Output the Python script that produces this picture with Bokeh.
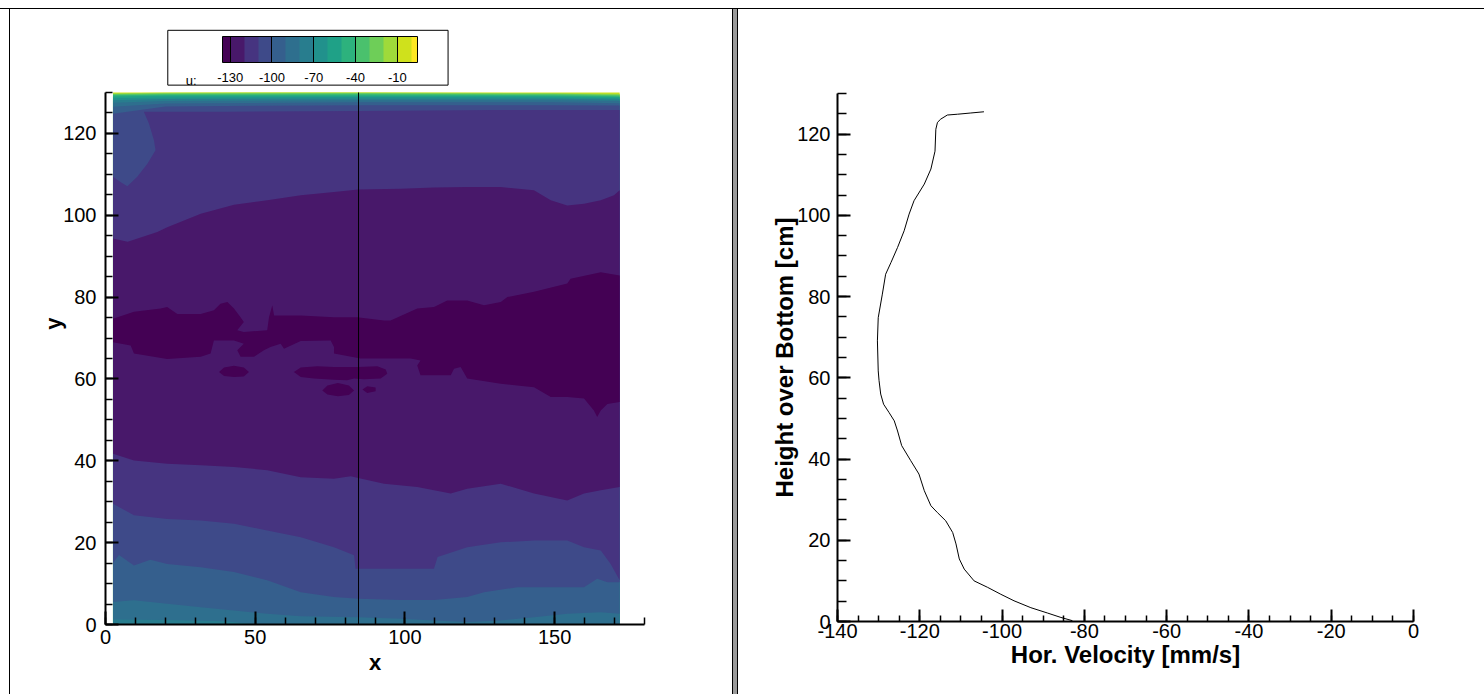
from bokeh.plotting import figure
from bokeh.models import (ColorBar, LinearColorMapper, FixedTicker, SingleIntervalTicker,
                          BoxAnnotation, Label, Div, PrintfTickFormatter)
from bokeh.layouts import row, column
from bokeh.embed import file_html
from bokeh.resources import INLINE

FONT = "Liberation Sans"

# ------------------------------------------------------------------ data
# contour levels of u and the flood colour of the band just below each level
levels = [-130, -120, -110, -100, -90, -80, -70, -60, -50, -40, -30, -20, -10, 0]
band_colors = ["#440154", "#48186a", "#463480", "#3e4a89", "#355f8d", "#2e6f8e", "#287d8e",
               "#21918c", "#1fa187", "#2db27d", "#4ac16d", "#6ece58", "#9fda3a", "#cfe11c",
               "#fde725"]
legend_ticks = [-130, -100, -70, -40, -10]
legend_low, legend_high = -135.5, 4.5

field_x = [2.5, 171.7]          # x extent of the measured field
field_y = [0.0, 130.0]          # y extent of the measured field
section_x = 84.5                # x of the extracted profile

# lower contour lines (u rising through the level when going down)
c80_lo_x = [2.5, 20.0, 40.0, 50.0, 171.7]
c80_lo_y = [1.2, 1.1, 0.8, 0.0, 0.0]
c90_lo_x = [2.5, 9.5, 20.6, 31.8, 42.9, 54.0, 65.2, 84.4, 98.6, 109.7, 120.8, 132.0, 143.1,
            154.2, 165.4, 171.7]
c90_lo_y = [5.5, 5.9, 5.1, 4.2, 3.4, 2.6, 2.0, 1.8, 1.4, 1.0, 0.6, 1.0, 1.8, 2.6, 3.0, 2.6]
c100_lo_x = [2.5, 4.5, 9.5, 15.0, 20.6, 31.8, 42.9, 54.0, 65.2, 76.3, 84.4, 98.6, 109.7, 120.8,
             126.4, 137.6, 148.7, 159.8, 164.2, 167.6, 171.7]
c100_lo_y = [15.0, 17.0, 14.4, 15.8, 14.8, 14.0, 12.8, 10.8, 7.9, 6.7, 6.3, 6.0, 6.0, 6.7,
             7.9, 9.1, 9.1, 9.1, 11.2, 10.3, 10.3]
c110_lo_x = [2.5, 9.5, 20.6, 31.8, 42.9, 54.0, 65.2, 76.3, 83.0, 83.5, 98.6, 109.7, 110.9,
             120.8, 132.0, 143.1, 154.2, 159.8, 165.4, 168.7, 171.7]
c110_lo_y = [29.5, 26.7, 25.8, 25.4, 24.6, 23.0, 21.3, 18.9, 16.9, 13.6, 13.6, 13.6, 16.5,
             18.9, 20.1, 20.5, 20.5, 18.9, 18.1, 14.8, 10.8]
c120_lo_x = [2.5, 9.5, 20.6, 31.8, 42.9, 54.0, 65.2, 76.3, 81.9, 84.4, 93.0, 104.1, 115.3,
             120.8, 132.0, 143.1, 154.2, 159.8, 165.4, 171.7]
c120_lo_y = [41.7, 40.1, 39.3, 38.9, 38.5, 37.7, 36.0, 35.6, 36.2, 35.8, 34.4, 33.6, 32.0,
             33.2, 34.4, 32.0, 30.3, 32.0, 32.8, 33.6]

# upper contour lines
c120_hi_x = [2.5, 7.4, 17.3, 20.6, 31.8, 42.9, 54.0, 65.2, 76.3, 84.4, 98.6, 109.7, 120.8,
             132.0, 143.1, 148.7, 154.2, 159.8, 165.4, 169.8, 171.7]
c120_hi_y = [94.3, 93.5, 95.9, 97.1, 100.4, 102.6, 103.7, 104.9, 105.7, 106.3, 106.5, 106.8,
             106.9, 106.9, 106.1, 103.7, 102.4, 102.8, 103.7, 104.9, 106.1]
c110_hi_x = [2.5, 5.0, 7.3, 10.6, 14.0, 16.7, 16.2, 14.5, 12.8, 40.0, 84.4, 130.0, 171.7]
c110_hi_y = [109.4, 108.1, 107.1, 109.4, 112.6, 115.9, 118.3, 122.4, 125.3, 125.3, 125.5,
             125.7, 125.7]
top_x = [2.5, 20.0, 86.0, 150.0, 171.7]
top_levels = [-100, -90, -80, -70, -60, -50, -40, -30, -20, -10]
top_contour_y = [
    [124.8, 126.6, 126.9, 126.9, 126.8],
    [126.5, 127.3, 127.6, 127.6, 127.4],
    [127.5, 127.9, 128.1, 128.1, 127.9],
    [128.1, 128.4, 128.5, 128.5, 128.3],
    [128.6, 128.8, 128.9, 128.8, 128.6],
    [129.0, 129.2, 129.2, 129.1, 128.9],
    [129.3, 129.45, 129.5, 129.35, 129.1],
    [129.5, 129.65, 129.7, 129.55, 129.3],
    [129.65, 129.8, 129.85, 129.7, 129.5],
    [129.8, 129.95, 130.0, 129.85, 129.7],
]

# u < -130 : main core and islands
core_bottom_x = [2.5, 8.4, 9.5, 20.6, 31.8, 35.1, 36.2, 42.9, 46.2, 44.0, 45.1, 49.6, 52.9,
                 55.1, 58.5, 59.6, 65.2, 75.2, 76.3, 76.3, 85.2, 93.0, 101.9, 105.2, 104.1,
                 105.2, 115.3, 116.4, 118.6, 120.8, 132.0, 137.5, 143.1, 148.7, 154.2, 159.8,
                 163.1, 164.2, 165.4, 167.6, 171.7]
core_bottom_y = [69.0, 68.2, 66.2, 64.9, 65.4, 66.2, 69.4, 69.4, 68.6, 67.0, 65.4, 65.4, 67.0,
                 67.8, 68.6, 67.4, 69.3, 69.4, 67.8, 66.2, 65.0, 65.0, 65.0, 64.5, 63.3,
                 60.9, 60.9, 62.5, 62.9, 60.1, 58.8, 58.4, 58.0, 55.6, 55.6, 55.2,
                 52.3, 50.7, 52.3, 53.9, 54.4]
core_top_x = [2.5, 9.5, 18.4, 20.6, 24.0, 31.8, 36.2, 38.4, 40.7, 42.9, 45.1, 46.2, 44.0, 46.2,
              54.0, 54.6, 55.7, 56.3, 65.2, 76.3, 84.1, 93.0, 95.2, 104.1, 109.7, 114.1,
              120.8, 126.4, 132.0, 134.2, 143.1, 154.2, 155.3, 165.4, 171.7]
core_top_y = [74.7, 76.4, 77.2, 77.6, 75.9, 75.9, 76.8, 78.4, 78.8, 77.2, 75.1, 73.9, 71.9, 71.5,
              71.9, 75.1, 78.0, 75.5, 75.5, 75.1, 75.1, 74.3, 74.3, 77.2, 77.6, 79.2,
              79.2, 78.0, 78.8, 80.0, 81.3, 83.3, 84.5, 86.1, 85.3]
island_a_x = [37.9, 39.6, 42.9, 46.2, 47.9, 46.2, 42.9, 39.6]
island_a_y = [61.7, 62.8, 63.2, 62.8, 61.7, 60.6, 60.5, 60.7]
island_b_x = [62.9, 65.2, 70.7, 76.3, 84.1, 90.8, 93.6, 94.1, 91.9, 86.3, 83.0, 80.7, 76.3,
              69.6, 65.2]
island_b_y = [61.7, 62.8, 63.1, 62.9, 62.9, 63.1, 62.3, 61.3, 60.1, 59.9, 60.1, 59.7, 59.8,
              60.1, 60.5]
island_c_x = [72.4, 74.1, 77.6, 81.3, 83.0, 81.3, 77.6, 74.1]
island_c_y = [57.2, 58.4, 59.0, 58.4, 57.2, 56.1, 55.8, 56.2]
island_d_x = [85.8, 87.4, 90.2, 90.2, 87.4]
island_d_y = [57.4, 58.2, 57.9, 57.0, 56.6]

# velocity profile along x = section_x
profile_height = [0.2, 1.0, 2.1, 3.4, 5.1, 6.7, 8.4, 10.0, 12.9, 15.4, 19.1, 21.9, 24.8, 26.8,
                  28.5, 32.2, 36.3, 39.6, 43.3, 46.9, 49.4, 51.5, 53.5, 56.0, 59.3, 61.7,
                  69.1, 74.8, 80.6, 85.5, 88.4, 92.1, 96.2, 100.3, 103.6, 107.7, 111.4,
                  115.8, 121.2, 122.9, 123.7, 124.7, 124.9, 125.2, 125.5]
profile_velocity = [-82.9, -85.7, -89.0, -93.0, -97.1, -100.3, -103.5, -106.8, -109.2, -110.4,
                    -111.2, -112.0, -113.7, -115.7, -117.3, -118.9, -120.2, -122.2, -124.4,
                    -125.4, -126.2, -127.5, -128.8, -129.5, -129.9, -130.1, -130.3, -130.1,
                    -129.1, -128.3, -127.0, -125.4, -123.8, -122.6, -121.4, -118.9, -117.3,
                    -116.3, -116.1, -115.7, -114.9, -113.3, -110.8, -107.6, -104.4]


# ------------------------------------------------------------------ helpers
def band_color_for_level(level):
    """colour of the band whose upper edge is `level`"""
    return band_colors[levels.index(level)]


def band_color_for_value(v):
    return band_colors[sum(1 for L in levels if v > L)]


def region(lx, ly, ux, uy):
    return list(lx) + list(ux)[::-1], list(ly) + list(uy)[::-1]


def style_axis(ax, major_in, minor_in, standoff, label_size, label_standoff):
    ax.axis_line_width = 2
    ax.axis_line_color = "black"
    ax.major_tick_in = major_in
    ax.major_tick_out = 0
    ax.minor_tick_in = minor_in
    ax.minor_tick_out = 0
    ax.major_tick_line_width = 2
    ax.minor_tick_line_width = 1.5
    ax.major_tick_line_color = "black"
    ax.minor_tick_line_color = "black"
    ax.major_label_text_font = FONT
    ax.major_label_text_font_size = "20px"
    ax.major_label_text_color = "black"
    ax.major_label_standoff = standoff
    ax.axis_label_text_font = FONT
    ax.axis_label_text_font_size = label_size
    ax.axis_label_text_font_style = "bold"
    ax.axis_label_text_color = "black"
    ax.axis_label_standoff = label_standoff
    ax.formatter = PrintfTickFormatter(format="%d")


FIG_H = 685

# ------------------------------------------------------------------ left: contour map
# the frame reaches above the field so that the legend box can sit in it;
# the y axis itself is bounded to the field (0..130)
LEFT_FRAME_H = 602
y_top_left = 130.0 * LEFT_FRAME_H / 532.0
p1 = figure(width=722, height=FIG_H, x_range=(0, 180), y_range=(0, y_top_left),
            output_backend="svg", toolbar_location=None,
            min_border_left=95, min_border_right=88, min_border_top=FIG_H - 70 - LEFT_FRAME_H,
            min_border_bottom=70)
p1.xgrid.visible = False
p1.ygrid.visible = False
p1.outline_line_color = None
p1.background_fill_color = "white"
p1.border_fill_color = "white"

# painter's algorithm: nested regions {u < L}, from the highest level to the lowest
p1.quad(left=field_x[0], right=field_x[1], bottom=field_y[0], top=field_y[1],
        fill_color=band_color_for_level(0), line_color=None)

lower_by_level = {
    -80: (c80_lo_x, c80_lo_y),
    -90: (c90_lo_x, c90_lo_y),
    -100: (c100_lo_x, c100_lo_y),
}
for L, ty in zip(top_levels[::-1], top_contour_y[::-1]):
    lx, ly = lower_by_level.get(L, (field_x, [field_y[0], field_y[0]]))
    xs, ys = region(lx, ly, top_x, ty)
    p1.patch(xs, ys, fill_color=band_color_for_level(L), line_color=None)

xs, ys = region(c110_lo_x, c110_lo_y, c110_hi_x, c110_hi_y)
p1.patch(xs, ys, fill_color=band_color_for_level(-110), line_color=None)
xs, ys = region(c120_lo_x, c120_lo_y, c120_hi_x, c120_hi_y)
p1.patch(xs, ys, fill_color=band_color_for_level(-120), line_color=None)

core_xs, core_ys = region(core_bottom_x, core_bottom_y, core_top_x, core_top_y)
p1.patches([core_xs, island_a_x, island_b_x, island_c_x, island_d_x],
           [core_ys, island_a_y, island_b_y, island_c_y, island_d_y],
           fill_color=band_color_for_level(-130), line_color=None)

p1.line([section_x, section_x], field_y, line_color="black", line_width=1)

p1.xaxis.ticker = SingleIntervalTicker(interval=50, num_minor_ticks=5)
p1.yaxis.ticker = SingleIntervalTicker(interval=20, num_minor_ticks=4)
p1.xaxis.bounds = (0, 180)
p1.yaxis.bounds = (0, 130)
p1.xaxis.axis_label = "x"
p1.yaxis.axis_label = "y"
style_axis(p1.xaxis[0], 13, 7, 5, "22px", 3)
style_axis(p1.yaxis[0], 13, 7, 9, "22px", -6)

# legend (Tecplot style contour legend) in the space above the field
legend_box = BoxAnnotation(left=20.8, right=114.4, bottom=131.8, top=145.2,
                           fill_color="white", fill_alpha=1.0,
                           line_color="black", line_alpha=1.0, line_width=1)
p1.add_layout(legend_box)
p1.add_layout(Label(x=26.8, y=132.9, text="u:", text_font=FONT, text_font_size="13px",
                    text_color="black", text_baseline="alphabetic"))
n_sw = int(round((legend_high - legend_low) / 0.5))
palette = [band_color_for_value(legend_low + (i + 0.5) * (legend_high - legend_low) / n_sw)
           for i in range(n_sw)]
mapper = LinearColorMapper(palette=palette, low=legend_low, high=legend_high)
cbar = ColorBar(color_mapper=mapper, orientation="horizontal", width=195, height=26,
                ticker=FixedTicker(ticks=legend_ticks),
                formatter=PrintfTickFormatter(format="%d"),
                major_tick_in=26, major_tick_out=0, major_tick_line_color="black",
                major_tick_line_width=1, minor_tick_line_color=None,
                bar_line_color="black", bar_line_width=1,
                border_line_color=None, background_fill_color=None,
                padding=0, margin=0, label_standoff=10,
                major_label_text_font=FONT, major_label_text_font_size="13px",
                major_label_text_color="black",
                location=(117, 540))
p1.add_layout(cbar)

# ------------------------------------------------------------------ right: profile
p2 = figure(width=746, height=FIG_H, x_range=(-140, 0), y_range=(0, 130),
            output_backend="svg", toolbar_location=None,
            min_border_left=99, min_border_right=71, min_border_top=84, min_border_bottom=73)
p2.xgrid.visible = False
p2.ygrid.visible = False
p2.outline_line_color = None
p2.line(profile_velocity, profile_height, line_color="black", line_width=1)
p2.xaxis.ticker = SingleIntervalTicker(interval=20, num_minor_ticks=4)
p2.yaxis.ticker = SingleIntervalTicker(interval=20, num_minor_ticks=4)
p2.xaxis.axis_label = "Hor. Velocity [mm/s]"
p2.yaxis.axis_label = "Height over Bottom [cm]"
style_axis(p2.xaxis[0], 12, 6, 2, "24px", 0)
style_axis(p2.yaxis[0], 13, 9, 7, "24px", -4)


# ------------------------------------------------------------------ frame lines / layout
def bar(w, h, color):
    return Div(text="", width=w, height=h, margin=0, styles={"background-color": color})


layout = column(
    bar(1484, 8, "white"),
    bar(1484, 1, "black"),
    row(bar(9, FIG_H, "white"), bar(1, FIG_H, "black"), column(p1),
        bar(1, FIG_H, "black"), bar(4, FIG_H, "#9a9a9a"),
        bar(1, FIG_H, "black"), column(p2), spacing=0),
    spacing=0,
)

open("out.html", "w").write(file_html(layout, INLINE))
